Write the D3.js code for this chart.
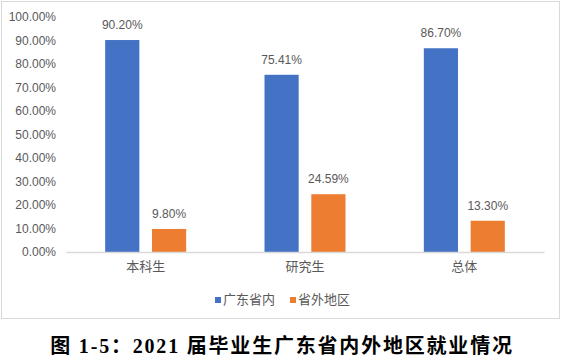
<!DOCTYPE html>
<html>
<head>
<meta charset="utf-8">
<script src="https://cdn.jsdelivr.net/npm/d3@7"></script>
<style>
  body { margin: 0; background: #fff; }
  svg { display: block; }
</style>
</head>
<body>
<div id="chart"></div>
<script>
// data
const categories = ["本科生", "研究生", "总体"]
const seriesNames = ["广东省内", "省外地区"]
const inProvince = [90.20, 75.41, 86.70]
const outProvince = [9.80, 24.59, 13.30]
const yTicks = [0, 10, 20, 30, 40, 50, 60, 70, 80, 90, 100]
const colors = ["#4472c4", "#ed7d31"]
const title = "图 1-5：2021 届毕业生广东省内外地区就业情况"

const W = 561, H = 364
const margin = {top: 17, right: 17, bottom: 112, left: 66}

const svg = d3.select("#chart").append("svg")
    .attr("width", W)
    .attr("height", H)

// chart frame
svg.append("rect")
    .attr("x", 1.5).attr("y", 1.5)
    .attr("width", 558).attr("height", 317)
    .attr("fill", "#fff")
    .attr("stroke", "#d9d9d9")

const x0 = d3.scaleBand()
    .domain(categories)
    .range([margin.left, W - margin.right])
    .paddingInner(0)
    .paddingOuter(0)

const x1 = d3.scaleBand()
    .domain(seriesNames)
    .range([0, 81])
    .paddingInner(0.27)

const y = d3.scaleLinear()
    .domain([0, 100])
    .range([252, margin.top])

// y axis labels
const yAxis = d3.axisLeft(y)
    .tickValues(yTicks)
    .tickFormat(d => d.toFixed(2) + "%")
    .tickSize(0)
    .tickPadding(10)

const yg = svg.append("g")
    .attr("transform", `translate(${margin.left},0)`)
    .call(yAxis)
yg.select(".domain").remove()
yg.selectAll("text")
    .attr("fill", "#595959")
    .style("font-family", "'Liberation Sans', Arial, sans-serif")
    .style("font-size", "12px")

// bars
const rows = categories.map((c, i) => ({cat: c, vals: [inProvince[i], outProvince[i]]}))

const groups = svg.selectAll(".grp")
    .data(rows)
    .join("g")
    .attr("class", "grp")
    .attr("transform", d => `translate(${x0(d.cat) + x0.bandwidth() / 2 - 40.5},0)`)

groups.selectAll("rect")
    .data(d => d.vals.map((v, j) => ({name: seriesNames[j], v: v, j: j})))
    .join("rect")
    .attr("x", d => x1(d.name))
    .attr("y", d => y(d.v))
    .attr("width", x1.bandwidth())
    .attr("height", d => y(0) - y(d.v))
    .attr("fill", d => colors[d.j])

groups.selectAll(".val")
    .data(d => d.vals.map((v, j) => ({name: seriesNames[j], v: v})))
    .join("text")
    .attr("class", "val")
    .attr("x", d => x1(d.name) + x1.bandwidth() / 2)
    .attr("y", d => y(d.v) - 11)
    .attr("text-anchor", "middle")
    .attr("fill", "#595959")
    .style("font-family", "'Liberation Sans', Arial, sans-serif")
    .style("font-size", "12px")
    .text(d => d.v.toFixed(2) + "%")

// x axis line + category labels
const xAxis = d3.axisBottom(x0).tickSize(0).tickPadding(10)
const xg = svg.append("g")
    .attr("transform", `translate(0,${y(0)})`)
    .call(xAxis)
xg.select(".domain").attr("stroke", "#d9d9d9").attr("stroke-width", 1.5)
xg.selectAll("text")
    .attr("fill", "#595959")
    .style("font-family", "'Noto Sans CJK SC', sans-serif")
    .style("font-size", "13px")

// legend
const legendX = [215, 290]
const legend = svg.selectAll(".leg")
    .data(seriesNames)
    .join("g")
    .attr("class", "leg")
    .attr("transform", (d, i) => `translate(${legendX[i]},297)`)
legend.append("rect")
    .attr("width", 6).attr("height", 6)
    .attr("fill", (d, i) => colors[i])
legend.append("text")
    .attr("x", 8).attr("y", 7)
    .attr("fill", "#595959")
    .style("font-family", "'Noto Sans CJK SC', sans-serif")
    .style("font-size", "13px")
    .text(d => d)

// caption under the chart
svg.append("text")
    .attr("x", 282)
    .attr("y", 353)
    .attr("text-anchor", "middle")
    .attr("fill", "#000")
    .style("font-family", "'Liberation Serif', 'Noto Sans CJK SC', serif")
    .style("font-weight", "bold")
    .style("font-size", "20px")
    .style("letter-spacing", "1.8px")
    .text(title)
</script>
</body>
</html>
